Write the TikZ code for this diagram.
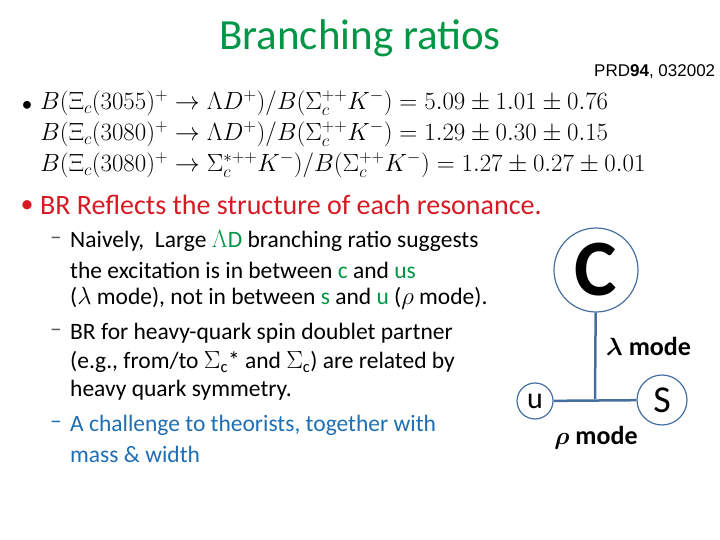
\documentclass[tikz,border=0pt]{standalone}
\usepackage{fontspec}
\setmainfont{Carlito}
\newfontfamily\arialfont{Liberation Sans}
\usepackage{amsmath}
\usetikzlibrary{positioning}
\definecolor{slidegreen}{RGB}{0,150,70}
\definecolor{slidered}{RGB}{215,25,35}
\definecolor{slideblue}{RGB}{30,110,180}
\definecolor{linkblue}{RGB}{70,110,160}
\definecolor{dashgrey}{RGB}{90,90,90}
\newcommand{\qk}[1]{\textcolor{slidegreen}{#1}}
\tikzset{
  line/.style={anchor=west,inner sep=0pt,font=\fontsize{23.5}{26}\selectfont},
  eqline/.style={anchor=west,inner sep=0pt,font=\fontsize{26}{28}\selectfont},
  quark/.style={circle,draw=linkblue,line width=1.2pt,inner sep=0pt},
  link/.style={draw=linkblue,line width=2.5pt},
  mode/.style={inner sep=0pt,font=\fontsize{26}{28}\selectfont\bfseries}
}
\begin{document}
\begin{tikzpicture}[x=1pt,y=-1pt]
\useasboundingbox (0,0) rectangle (720,540);

\node[text=slidegreen,font=\fontsize{43}{46}\selectfont] (title) at (360,38) {Branching ratios};
\node[anchor=west,inner sep=0pt,font=\arialfont\fontsize{17}{19}\selectfont] (ref) at (594,72) {PRD\textbf{94}, 032002};

% bullets
\node[inner sep=0pt,font=\fontsize{22}{24}\selectfont] (b1) at (27,106) {\textbullet};
\node[inner sep=0pt,text=slidered,font=\fontsize{26}{28}\selectfont] (b2) at (27,207) {\textbullet};

\node[eqline] (eq1) at (40,103) {$B(\Xi_c(3055)^+\to \Lambda D^+)/B(\Sigma_c^{++}K^-)=5.09\pm1.01\pm0.76$};
\node[eqline] (eq2) at (40,134) {$B(\Xi_c(3080)^+\to \Lambda D^+)/B(\Sigma_c^{++}K^-)=1.29\pm0.30\pm0.15$};
\node[eqline] (eq3) at (40,165) {$B(\Xi_c(3080)^+\to \Sigma_c^{*++}K^-)/B(\Sigma_c^{++}K^-)=1.27\pm0.27\pm0.01$};

\node[line,text=slidered,font=\fontsize{28}{30}\selectfont] (br) at (40,205) {BR Reflects the structure of each resonance.};

% sub items
\foreach \y in {241,333}
  \node[inner sep=0pt,text=dashgrey,font=\fontsize{23.5}{26}\selectfont] at (56,\y) {--};
\node[inner sep=0pt,text=slideblue,font=\fontsize{23.5}{26}\selectfont] at (56,425) {--};

\node[line] (s1a) at (70,241) {Naively,\ \ Large \qk{$\Lambda$D} branching ratio suggests};
\node[line] (s1b) at (70,270) {the excitation is in between \qk{c} and \qk{us}};
\node[line] (s1c) at (70,298) {($\lambda$ mode), not in between \qk{s} and \qk{u} ($\rho$ mode).};
\node[line] (s2a) at (70,333) {BR for heavy-quark spin doublet partner};
\node[line] (s2b) at (70,362) {(e.g., from/to $\Sigma$\textsubscript{c}* and $\Sigma$\textsubscript{c}) are related by};
\node[line] (s2c) at (70,390) {heavy quark symmetry.};
\node[line,text=slideblue] (s3a) at (70,425) {A challenge to theorists, together with};
\node[line,text=slideblue] (s3b) at (70,454) {mass \& width};

% quark diagram
\node[quark,minimum size=84pt,font=\fontsize{80}{84}\selectfont\bfseries] (c) at (596,270) {C};
\node[quark,minimum size=36pt,font=\fontsize{30}{32}\selectfont] (u) at (535,401) {u};
\node[quark,minimum size=50pt,font=\fontsize{38}{40}\selectfont] (s) at (662,400) {S};
\coordinate (mid) at (595,399);
\draw[link] (c) -- (mid);
\draw[link] (u) -- (s);
\node[mode,anchor=west] (lam) at (606,346) {$\boldsymbol\lambda$ mode};
\node[mode] (rho) at (596,438) {$\boldsymbol\rho$ mode};
\end{tikzpicture}
\end{document}
